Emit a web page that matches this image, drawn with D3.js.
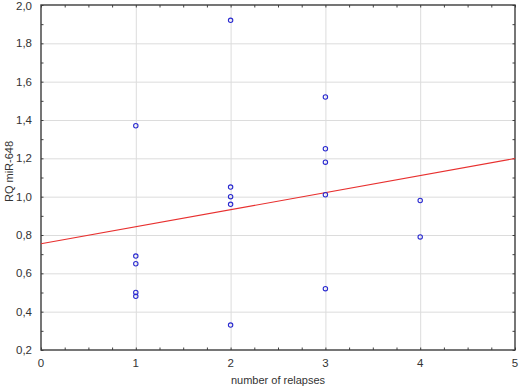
<!DOCTYPE html>
<html>
<head>
<meta charset="utf-8">
<script src="https://cdn.jsdelivr.net/npm/d3@7"></script>
<style>
  body { margin: 0; background: #fff; }
  text { font-family: "Liberation Sans", Arial, sans-serif; fill: #333; }
  .grid line { stroke: #dcdcdc; stroke-width: 1; }
  .grid path { display: none; }
  .minor path { display: none; }
  .minor line { stroke: #404040; stroke-width: 1; }
</style>
</head>
<body>
<div class="chart"></div>
<script>
var svgWidth = 520;
var svgHeight = 388;

var margin = { top: 5, right: 5, bottom: 38, left: 41 };

var width = svgWidth - margin.left - margin.right;
var height = svgHeight - margin.top - margin.bottom;

// data
var relapses = [1, 1, 1, 1, 1, 2, 2, 2, 2, 2, 3, 3, 3, 3, 3, 4, 4];
var rqValues = [1.37, 0.69, 0.65, 0.50, 0.48, 1.92, 1.05, 1.00, 0.96, 0.33, 1.52, 1.25, 1.18, 1.01, 0.52, 0.98, 0.79];
var xTicks = [0, 1, 2, 3, 4, 5];
var yTicks = [0.2, 0.4, 0.6, 0.8, 1.0, 1.2, 1.4, 1.6, 1.8, 2.0];

var points = relapses.map((r, i) => ({ x: r, y: rqValues[i] }));

var svg = d3.select(".chart")
    .append("svg")
    .attr("width", svgWidth)
    .attr("height", svgHeight);

var chartGroup = svg.append("g")
    .attr("transform", `translate(${margin.left}, ${margin.top})`);

var xScale = d3.scaleLinear().domain([0, 5]).range([0, width]);
var yScale = d3.scaleLinear().domain([0.2, 2.0]).range([height, 0]);

// gridlines
chartGroup.append("g")
    .attr("class", "grid")
    .attr("transform", `translate(0, ${height})`)
    .call(d3.axisBottom(xScale).tickValues(xTicks.slice(1, -1)).tickSize(-height).tickFormat(""));

chartGroup.append("g")
    .attr("class", "grid")
    .call(d3.axisLeft(yScale).tickValues(yTicks.slice(1, -1)).tickSize(-width).tickFormat(""));

// minor ticks pointing inwards on all four sides
var xMinor = d3.range(0, 5.001, 0.25);
var yMinor = d3.range(0.2, 2.001, 0.1);

chartGroup.append("g").attr("class", "minor")
    .attr("transform", `translate(0, ${height})`)
    .call(d3.axisBottom(xScale).tickValues(xMinor).tickSize(-2.5).tickFormat(""));
chartGroup.append("g").attr("class", "minor")
    .call(d3.axisTop(xScale).tickValues(xMinor).tickSize(-2.5).tickFormat(""));
chartGroup.append("g").attr("class", "minor")
    .call(d3.axisLeft(yScale).tickValues(yMinor).tickSize(-2.5).tickFormat(""));
chartGroup.append("g").attr("class", "minor")
    .attr("transform", `translate(${width}, 0)`)
    .call(d3.axisRight(yScale).tickValues(yMinor).tickSize(-2.5).tickFormat(""));

// frame
chartGroup.append("rect")
    .attr("width", width)
    .attr("height", height)
    .attr("fill", "none")
    .attr("stroke", "#3c3c3c")
    .attr("stroke-width", 1.4);

var comma = d => d3.format(".1f")(d).replace(".", ",");

// tick labels (top one nudged down so it stays inside the page)
chartGroup.append("g")
    .selectAll("text")
    .data(yTicks)
    .enter()
    .append("text")
    .attr("x", -9)
    .attr("y", d => Math.max(yScale(d), 0.5))
    .attr("dy", "0.36em")
    .attr("text-anchor", "end")
    .style("font-size", "11.5px")
    .text(comma);

chartGroup.append("g")
    .selectAll("text")
    .data(xTicks)
    .enter()
    .append("text")
    .attr("x", d => xScale(d))
    .attr("y", height + 17)
    .attr("text-anchor", "middle")
    .style("font-size", "11.5px")
    .text(d => d);

// linear fit
var mx = d3.mean(points, d => d.x);
var my = d3.mean(points, d => d.y);
var slope = d3.sum(points, d => (d.x - mx) * (d.y - my)) / d3.sum(points, d => (d.x - mx) * (d.x - mx));
var intercept = my - slope * mx;

chartGroup.append("line")
    .attr("x1", xScale(0))
    .attr("y1", yScale(intercept))
    .attr("x2", xScale(5))
    .attr("y2", yScale(intercept + slope * 5))
    .attr("stroke", "#e8302f")
    .attr("stroke-width", 1.1);

// points
chartGroup.selectAll("circle")
    .data(points)
    .enter()
    .append("circle")
    .attr("cx", d => xScale(d.x))
    .attr("cy", d => yScale(d.y))
    .attr("r", 2.2)
    .attr("fill", "none")
    .attr("stroke", "#2a2ad0")
    .attr("stroke-width", 1.1);

// axis titles
chartGroup.append("text")
    .attr("transform", `translate(${width / 2}, ${height + 34})`)
    .attr("text-anchor", "middle")
    .style("font-size", "11px")
    .text("number of relapses");

chartGroup.append("text")
    .attr("transform", "rotate(-90)")
    .attr("x", 0 - (height / 2) + 6)
    .attr("y", 0 - margin.left + 13)
    .attr("text-anchor", "middle")
    .style("font-size", "11px")
    .text("RQ miR-648");
</script>
</body>
</html>
